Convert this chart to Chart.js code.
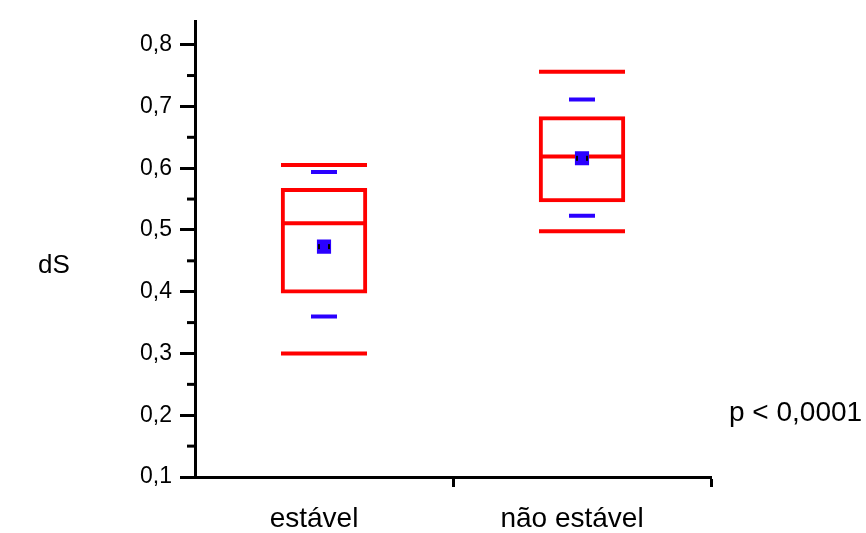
<!DOCTYPE html>
<html>
<head>
<meta charset="utf-8">
<script src="https://cdn.jsdelivr.net/npm/chart.js@4.4.1/dist/chart.umd.min.js"></script>
<style>
  html, body { margin: 0; padding: 0; background: #fff; }
  #wrap { width: 866px; height: 533px; }
</style>
</head>
<body>
<div id="wrap"><canvas id="dsChart"></canvas></div>
<script>
const categories = ["estável", "não estável"];

// box plot summary per group
const maxVals  = [0.605, 0.756];
const upperPct = [0.594, 0.711];
const q3Vals   = [0.568, 0.684];
const medians  = [0.511, 0.619];
const means    = [0.473, 0.616];
const q1Vals   = [0.397, 0.545];
const lowerPct = [0.360, 0.523];
const minVals  = [0.300, 0.498];

const yTicks = [0.1, 0.2, 0.3, 0.4, 0.5, 0.6, 0.7, 0.8];
const yMinorTicks = [0.15, 0.25, 0.35, 0.45, 0.55, 0.65, 0.75];

const RED = "#ff0000";
const BLUE = "#2a00ff";
const FONT = "'Liberation Sans', Arial, sans-serif";

// short ticks between the labelled ones + the free texts
const extrasPlugin = {
    id: "extras",
    afterDatasetsDraw(chart) {
        const ctx = chart.ctx;
        const x = chart.scales.x;
        const y = chart.scales.y;

        // black caps on the mean markers
        ctx.save();
        ctx.fillStyle = "#000";
        means.forEach((m, i) => {
            const px = x.getPixelForValue(i);
            const py = y.getPixelForValue(m);
            ctx.fillRect(px - 6, py - 2.5, 2, 5);
            ctx.fillRect(px + 4, py - 2.5, 2, 5);
        });
        ctx.restore();
    },
    afterDraw(chart) {
        const ctx = chart.ctx;
        const y = chart.scales.y;
        const left = chart.chartArea.left;

        ctx.save();
        ctx.strokeStyle = "#000";
        ctx.lineWidth = 3;
        yMinorTicks.forEach(v => {
            const py = y.getPixelForValue(v);
            ctx.beginPath();
            ctx.moveTo(left - 8, py);
            ctx.lineTo(left, py);
            ctx.stroke();
        });

        ctx.fillStyle = "#000";
        ctx.textBaseline = "middle";
        ctx.textAlign = "left";
        ctx.font = "26px " + FONT;
        ctx.fillText("dS", 38, 266);
        ctx.font = "28px " + FONT;
        ctx.fillText("p < 0,0001", 729, 413);
        ctx.restore();
    }
};

const whisker = (label, data, color, radius) => ({
    label: label,
    type: "line",
    data: data,
    showLine: false,
    pointStyle: "line",
    pointRadius: radius,
    pointBorderColor: color,
    pointBorderWidth: 4,
    order: 1
});

new Chart(document.getElementById("dsChart"), {
    type: "bar",
    data: {
        labels: categories,
        datasets: [
            {
                label: "mean",
                type: "line",
                data: means,
                showLine: false,
                pointStyle: "rect",
                pointRadius: 10,
                pointBackgroundColor: BLUE,
                pointBorderWidth: 0,
                order: 0
            },
            whisker("median", medians, RED, 43),
            whisker("max", maxVals, RED, 43),
            whisker("min", minVals, RED, 43),
            whisker("upper", upperPct, BLUE, 13),
            whisker("lower", lowerPct, BLUE, 13),
            {
                label: "box",
                data: q1Vals.map((v, i) => [v, q3Vals[i]]),
                backgroundColor: "rgba(0,0,0,0)",
                borderColor: RED,
                borderWidth: 4,
                borderSkipped: false,
                barPercentage: 0.335,
                categoryPercentage: 1,
                order: 2
            }
        ]
    },
    options: {
        responsive: true,
        maintainAspectRatio: false,
        animation: false,
        layout: {
            autoPadding: false,
            padding: { top: 20, right: 155, left: 0, bottom: 0 }
        },
        plugins: {
            legend: { display: false },
            tooltip: { enabled: false }
        },
        scales: {
            x: {
                offset: true,
                afterFit: s => { s.height = 56; },
                grid: {
                    offset: true,
                    drawOnChartArea: false,
                    tickLength: 10,
                    tickWidth: 3,
                    tickColor: c => c.index === 0 ? "rgba(0,0,0,0)" : "#000"
                },
                border: { display: true, color: "#000", width: 3 },
                ticks: {
                    color: "#000",
                    padding: 15,
                    labelOffset: -10,
                    font: { family: FONT, size: 28 }
                }
            },
            y: {
                min: 0.1,
                max: 0.837,
                afterFit: s => { s.width = 195; },
                afterBuildTicks: s => { s.ticks = yTicks.map(v => ({ value: v })); },
                grid: {
                    drawOnChartArea: false,
                    tickLength: 15,
                    tickWidth: 3,
                    tickColor: "#000"
                },
                border: { display: true, color: "#000", width: 3 },
                ticks: {
                    color: "#000",
                    padding: 8,
                    font: { family: FONT, size: 23 },
                    callback: v => v.toFixed(1).replace(".", ",")
                }
            }
        }
    },
    plugins: [extrasPlugin]
});
</script>
</body>
</html>
